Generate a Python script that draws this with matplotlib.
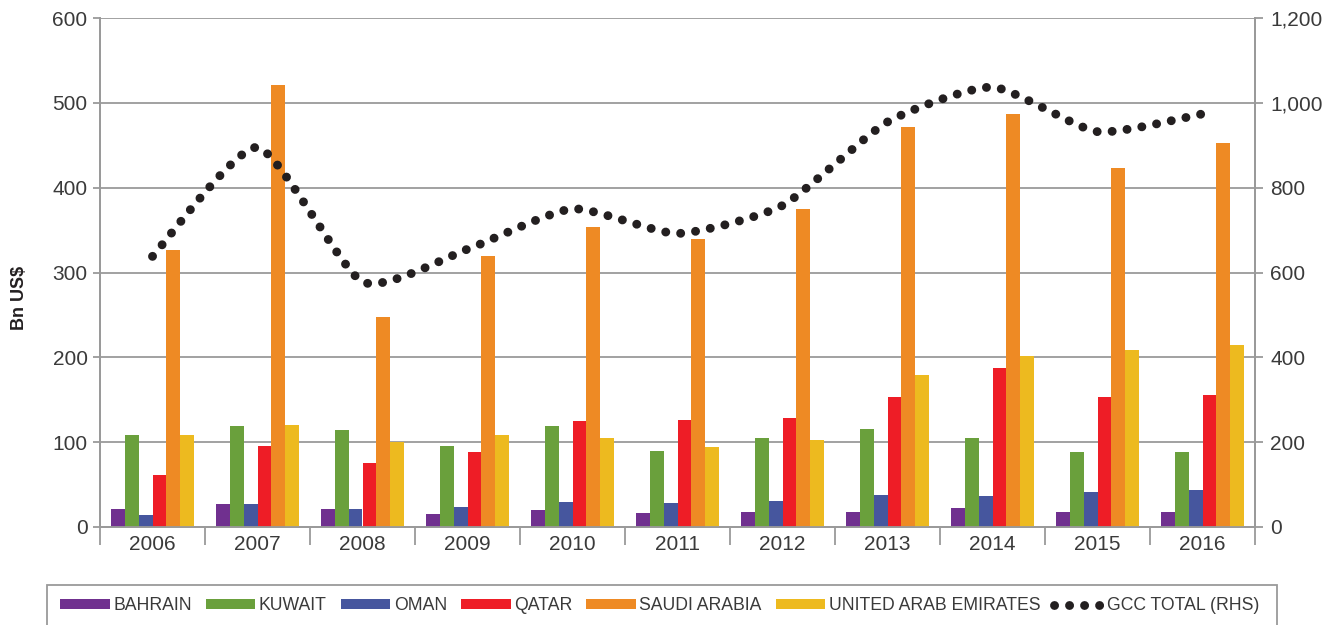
#!/usr/bin/env python3
# -*- coding: utf-8 -*-
"""Gastos por país do GCC (barras, eixo esquerdo) + total GCC (linha pontilhada, eixo direito)."""

import numpy as np
import matplotlib
matplotlib.use("Agg")
import matplotlib.pyplot as plt
from matplotlib.patches import Patch, Rectangle
from matplotlib.lines import Line2D
from matplotlib.ticker import FixedLocator, FuncFormatter, NullFormatter

# --- dados (Bn US$) ---
ANOS = ["2006", "2007", "2008", "2009", "2010", "2011", "2012", "2013", "2014", "2015", "2016"]
BAHRAIN = [21, 27, 21, 15, 20, 16, 18, 18, 22, 18, 18]
KUWAIT = [109, 119, 114, 96, 119, 89, 105, 116, 105, 88, 88]
OMAN = [14, 27, 21, 23, 29, 28, 31, 38, 36, 41, 44]
QATAR = [61, 95, 76, 88, 125, 126, 128, 153, 188, 153, 156]
SAUDI = [327, 521, 247, 319, 354, 339, 375, 472, 487, 423, 453]
UAE = [108, 120, 100, 109, 105, 94, 103, 179, 201, 209, 215]
GCC_TOTAL = [638, 895, 578, 655, 750, 692, 758, 955, 1037, 932, 974]

NOMES = ["BAHRAIN", "KUWAIT", "OMAN", "QATAR", "SAUDI ARABIA", "UNITED ARAB EMIRATES"]
CORES = ["#70308f", "#6aa03c", "#46569e", "#ee1d26", "#ee8a24", "#edba1f"]

CINZA = "#9a9a9a"
TEXTO = "#3a3a3a"
FONTE = ["Liberation Sans", "DejaVu Sans"]

TENSAO = 0.1   # braço dos pontos de controle (Excel ~1/6; o original é mais "reto")


def suavizar(ys, n=60):
    """Bezier cúbica por trechos passando pelos pontos (controle tipo Catmull-Rom)."""
    pts = np.column_stack([np.arange(len(ys)), ys]).astype(float)
    P = np.vstack([pts[0], pts, pts[-1]])
    t = np.linspace(0, 1, n)[:, None]
    partes = []
    for i in range(1, len(P) - 2):
        p0, p1, p2, p3 = P[i - 1], P[i], P[i + 1], P[i + 2]
        c1 = p1 + (p2 - p0) * TENSAO
        c2 = p2 - (p3 - p1) * TENSAO
        seg = (1 - t) ** 3 * p1 + 3 * (1 - t) ** 2 * t * c1 + 3 * (1 - t) * t ** 2 * c2 + t ** 3 * p2
        partes.append(seg if i == 1 else seg[1:])
    return np.vstack(partes)


def estilo_pontos():
    return dict(color="#231f20", lw=6.4, linestyle=(0, (0.01, 1.68)),
                dash_capstyle="round", solid_capstyle="round")


fig = plt.figure(figsize=(13.42, 6.25), dpi=100)
ax = fig.add_axes([100 / 1342, 98 / 625, 1155 / 1342, 509 / 625])
ax2 = ax.twinx()

x = np.arange(len(ANOS))
series = [BAHRAIN, KUWAIT, OMAN, QATAR, SAUDI, UAE]
w = 0.133
for k, (vals, cor) in enumerate(zip(series, CORES)):
    ax.bar(x + (k - 2.5) * w, vals, width=w, color=cor, zorder=3, linewidth=0)

# linha do total (eixo direito)
curva = suavizar(GCC_TOTAL)
ax2.plot(curva[:, 0], curva[:, 1], zorder=5, **estilo_pontos())

# eixos
ax.set_xlim(-0.5, len(ANOS) - 0.5)
ax.set_ylim(0, 600)
ax2.set_ylim(0, 1200)
ax.set_yticks(np.arange(0, 601, 100))
ax2.set_yticks(np.arange(0, 1201, 200))
ax2.yaxis.set_major_formatter(FuncFormatter(lambda v, _: f"{int(v):,}"))

ax.xaxis.set_major_locator(FixedLocator(np.arange(-0.5, len(ANOS), 1.0)))
ax.xaxis.set_major_formatter(NullFormatter())
ax.xaxis.set_minor_locator(FixedLocator(x))
ax.set_xticklabels(ANOS, minor=True)
ax.tick_params(axis="x", which="major", length=13, width=1.3, color=CINZA)
ax.tick_params(axis="x", which="minor", length=0, pad=6, labelsize=15, labelcolor=TEXTO)
ax.tick_params(axis="y", length=5, width=1.3, color=CINZA, labelsize=15, labelcolor=TEXTO, pad=4)
ax2.tick_params(axis="y", length=6, width=1.3, color=CINZA, labelsize=15, labelcolor=TEXTO, pad=5)
for lab in ax.get_xticklabels(minor=True) + ax.get_yticklabels() + ax2.get_yticklabels():
    lab.set_family(FONTE)

ax.grid(axis="y", color=CINZA, lw=1.3, zorder=0)
ax.set_axisbelow(True)
for a in (ax, ax2):
    a.spines["top"].set_visible(False)
    for s in ("left", "right", "bottom"):
        a.spines[s].set_color(CINZA)
        a.spines[s].set_linewidth(1.3)
ax.set_ylabel("Bn US$", fontsize=13, fontweight="bold", family=FONTE, color="#231f20")
ax.yaxis.set_label_coords(-0.062, 0.45)

# legenda
handles = [Patch(facecolor=c, edgecolor="none") for c in CORES]
handles.append(Line2D([0], [0], **estilo_pontos()))
rotulos = NOMES + ["GCC TOTAL (RHS)"]
leg = fig.legend(handles, rotulos, loc="center", bbox_to_anchor=(660 / 1342, 1 - 606 / 625),
                 ncol=7, frameon=False, handlelength=2.8, handleheight=0.5,
                 handletextpad=0.2, columnspacing=0.8,
                 prop={"family": FONTE, "size": 12.7})
for t in leg.get_texts():
    t.set_color(TEXTO)
fig.patches.append(Rectangle((47 / 1342, -0.05), 1230 / 1342, 0.05 + 1 - 585 / 625,
                             transform=fig.transFigure, fill=False, edgecolor=CINZA,
                             lw=1.3, clip_on=False))

fig.savefig("out.png", dpi=100)
